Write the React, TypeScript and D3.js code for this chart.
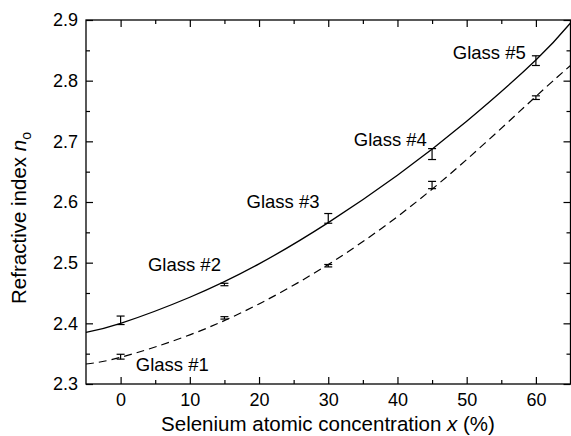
import { useEffect, useRef } from "react";
import * as d3 from "d3";

// measured points (x = Se concentration %, n_o with error)
const seConc = [0, 15, 30, 45, 60];
const upperN = [2.405, 2.464, 2.573, 2.679, 2.833];
const upperErr = [0.007, 0.002, 0.008, 0.009, 0.008];
const lowerN = [2.345, 2.409, 2.495, 2.628, 2.772];
const lowerErr = [0.004, 0.002, 0.002, 0.006, 0.003];

// fit curves
const fitX = [-5, 0, 10, 20, 30, 40, 50, 60, 65];
const upperFit = [2.385, 2.4, 2.443, 2.498, 2.566, 2.644, 2.733, 2.834, 2.895];
const lowerFit = [2.333, 2.344, 2.381, 2.432, 2.497, 2.576, 2.67, 2.774, 2.825];

// glass labels, anchored in data units
const glassLabels = ["Glass #1", "Glass #2", "Glass #3", "Glass #4", "Glass #5"];
const labelX = [2.2, 3.95, 18.2, 33.7, 48.0];
const labelY = [2.3215, 2.486, 2.59, 2.6926, 2.8355];

const xTicks = [0, 10, 20, 30, 40, 50, 60];
const xMinor = [5, 15, 25, 35, 45, 55];
const yTicks = [2.3, 2.4, 2.5, 2.6, 2.7, 2.8, 2.9];
const yMinor = [2.35, 2.45, 2.55, 2.65, 2.75, 2.85];

const W = 571;
const H = 436;
const FONT = "'Liberation Sans', Arial, sans-serif";

const App = () => {
    const svgRef = useRef<SVGSVGElement>(null);

    useEffect(() => {
        document.body.style.margin = "0";
        const svg = d3.select(svgRef.current);
        svg.selectAll("*").remove();

        const left = 86, right = 570.5, top = 20, bottom = 384;
        const x = d3.scaleLinear().domain([-5, 65]).range([left, right]);
        const y = d3.scaleLinear().domain([2.3, 2.9]).range([bottom, top]);

        const g = svg.append("g").style("font-family", FONT);

        // axes with inward ticks
        const axisStyle = (sel: any) => {
            sel.select(".domain").remove();
            sel.selectAll("line").attr("stroke", "#000").attr("stroke-width", 1.2);
            sel.selectAll("text").attr("fill", "#000").style("font-size", "18px").style("font-family", FONT);
        };

        g.append("g")
            .attr("transform", `translate(0,${bottom})`)
            .call(d3.axisBottom(x).tickValues(xTicks).tickSize(-7).tickPadding(9).tickFormat(d3.format("d")))
            .call(axisStyle);
        g.append("g")
            .attr("transform", `translate(0,${bottom})`)
            .call(d3.axisBottom(x).tickValues(xMinor).tickSize(-4).tickFormat(() => ""))
            .call(axisStyle);
        g.append("g")
            .attr("transform", `translate(0,${top})`)
            .call(d3.axisTop(x).tickValues(xTicks).tickSize(-7).tickFormat(() => ""))
            .call(axisStyle);
        g.append("g")
            .attr("transform", `translate(0,${top})`)
            .call(d3.axisTop(x).tickValues(xMinor).tickSize(-4).tickFormat(() => ""))
            .call(axisStyle);

        g.append("g")
            .attr("transform", `translate(${left},0)`)
            .call(d3.axisLeft(y).tickValues(yTicks).tickSize(-7).tickPadding(8).tickFormat(d3.format(".1f")))
            .call(axisStyle);
        g.append("g")
            .attr("transform", `translate(${left},0)`)
            .call(d3.axisLeft(y).tickValues(yMinor).tickSize(-4).tickFormat(() => ""))
            .call(axisStyle);
        g.append("g")
            .attr("transform", `translate(${right},0)`)
            .call(d3.axisRight(y).tickValues(yTicks).tickSize(-7).tickFormat(() => ""))
            .call(axisStyle);
        g.append("g")
            .attr("transform", `translate(${right},0)`)
            .call(d3.axisRight(y).tickValues(yMinor).tickSize(-4).tickFormat(() => ""))
            .call(axisStyle);

        // frame
        g.append("rect")
            .attr("x", left)
            .attr("y", top)
            .attr("width", right - left)
            .attr("height", bottom - top)
            .attr("fill", "none")
            .attr("stroke", "#000")
            .attr("stroke-width", 1.3);

        // fit curves
        const line = d3
            .line<number>()
            .x((d, i) => x(fitX[i]))
            .y((d) => y(d))
            .curve(d3.curveNatural);

        g.append("path")
            .attr("d", line(upperFit))
            .attr("fill", "none")
            .attr("stroke", "#000")
            .attr("stroke-width", 1.3);

        g.append("path")
            .attr("d", line(lowerFit))
            .attr("fill", "none")
            .attr("stroke", "#000")
            .attr("stroke-width", 1.2)
            .attr("stroke-dasharray", "8,5");

        // error bars
        const drawErr = (vals: number[], errs: number[]) => {
            const cap = 4;
            seConc.forEach((c, i) => {
                const cx = x(c);
                const y0 = y(vals[i] - errs[i]);
                const y1 = y(vals[i] + errs[i]);
                const eg = g.append("g").attr("stroke", "#000").attr("stroke-width", 1.2);
                eg.append("line").attr("x1", cx).attr("x2", cx).attr("y1", y0).attr("y2", y1);
                eg.append("line").attr("x1", cx - cap).attr("x2", cx + cap).attr("y1", y0).attr("y2", y0);
                eg.append("line").attr("x1", cx - cap).attr("x2", cx + cap).attr("y1", y1).attr("y2", y1);
            });
        };
        drawErr(upperN, upperErr);
        drawErr(lowerN, lowerErr);

        // glass labels
        g.selectAll(".glass")
            .data(glassLabels)
            .enter()
            .append("text")
            .attr("class", "glass")
            .attr("x", (d, i) => x(labelX[i]))
            .attr("y", (d, i) => y(labelY[i]))
            .style("font-size", "18.5px")
            .text((d) => d);

        // x axis title
        const xt = g.append("text")
            .attr("x", 328)
            .attr("y", 431)
            .attr("text-anchor", "middle")
            .style("font-size", "20.5px");
        xt.append("tspan").text("Selenium atomic concentration ");
        xt.append("tspan").style("font-style", "italic").text("x");
        xt.append("tspan").text(" (%)");

        // y axis title
        const yt = g.append("text")
            .attr("transform", "rotate(-90)")
            .attr("x", -218)
            .attr("y", 26)
            .attr("text-anchor", "middle")
            .style("font-size", "20.5px");
        yt.append("tspan").text("Refractive index ");
        yt.append("tspan").style("font-style", "italic").text("n");
        yt.append("tspan").attr("dy", 5).style("font-size", "14px").text("o");
    }, []);

    return (
        <svg
            ref={svgRef}
            width={W}
            height={H}
            viewBox={`0 0 ${W} ${H}`}
            style={{ display: "block", position: "absolute", left: 0, top: 0, background: "#fff" }}
        ></svg>
    );
};

export default App;
